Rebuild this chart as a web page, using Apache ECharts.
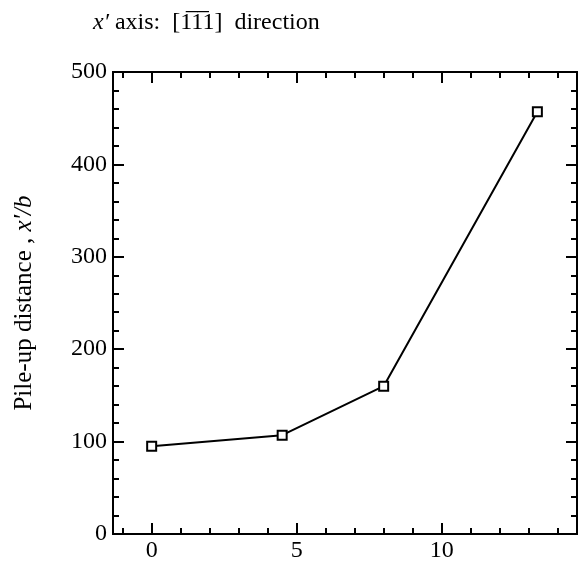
<!DOCTYPE html>
<html><head><meta charset="utf-8">
<script src="https://cdn.jsdelivr.net/npm/echarts@6/dist/echarts.min.js"></script>
<style>html,body{margin:0;padding:0;background:#fff}#c{width:584px;height:563px}</style>
</head><body><div id="c"></div>
<script>
const xValues = [0, 4.5, 8, 13.3];
const yValues = [95, 107, 160, 457];
const xMajorTicks = [0, 5, 10];
const xMinorTicks = [-1,0,1,2,3,4,5,6,7,8,9,10,11,12,13,14];
const xMin = -4/3, xMax = 44/3;
const yMin = 0, yMax = 500, yInterval = 100;

const FONT = '"Liberation Serif", "Times New Roman", serif';
const FS = 24;
const chart = echarts.init(document.getElementById('c'), null, {renderer: 'canvas'});
const lineStyle = {color: '#000', width: 2};
function xa(pos, major, labels) {
  return {
    type: 'value', position: pos, min: xMin, max: xMax,
    axisLine: {show: true, onZero: false, lineStyle},
    axisTick: {show: true, inside: true, length: major ? 11 : 6, lineStyle, customValues: major ? xMajorTicks : xMinorTicks},
    axisLabel: labels ? {show: true, customValues: xMajorTicks, fontFamily: FONT, fontSize: FS, color: '#000', margin: 5} : {show: false},
    splitLine: {show: false}
  };
}
function ya(pos, labels) {
  return {
    type: 'value', position: pos, min: yMin, max: yMax, interval: yInterval,
    axisLine: {show: true, onZero: false, lineStyle},
    axisTick: {show: true, inside: true, length: 11, lineStyle},
    minorTick: {show: true, splitNumber: 5, length: 6, lineStyle},
    axisLabel: labels ? {show: true, fontFamily: FONT, fontSize: FS, color: '#000', margin: 6} : {show: false},
    splitLine: {show: false},
    name: labels ? '{n|Pile-up distance , }{i|x′/b}' : '',
    nameLocation: 'middle', nameRotate: 90, nameGap: 76,
    nameTextStyle: {rich: {n: {fontFamily: FONT, fontSize: 25, color: '#000'}, i: {fontFamily: FONT, fontSize: 25, fontStyle: 'italic', color: '#000'}}}
  };
}
chart.setOption({
  animation: false,
  backgroundColor: '#fff',
  title: {
    text: '{i|x′}{n| axis:  [1\u03051\u03051]  direction}',
    left: 88, top: 6,
    textStyle: {fontWeight: 'normal', rich: {i: {fontFamily: FONT, fontSize: FS, fontStyle: 'italic', fontWeight: 'normal', color: '#000'}, n: {fontFamily: FONT, fontSize: FS, fontWeight: 'normal', color: '#000'}}}
  },
  grid: {left: 113, right: 7, top: 72, bottom: 28, containLabel: false},
  xAxis: [xa('bottom', true, true), xa('bottom', false, false), xa('top', true, false), xa('top', false, false)],
  yAxis: [ya('left', true), ya('right', false)],
  series: [{
    type: 'line', xAxisIndex: 0, yAxisIndex: 0,
    data: xValues.map((x, i) => [x, yValues[i]]),
    symbol: 'rect', symbolSize: 9,
    lineStyle: {color: '#000', width: 2},
    itemStyle: {color: '#fff', borderColor: '#000', borderWidth: 2}
  }]
});
</script></body></html>
